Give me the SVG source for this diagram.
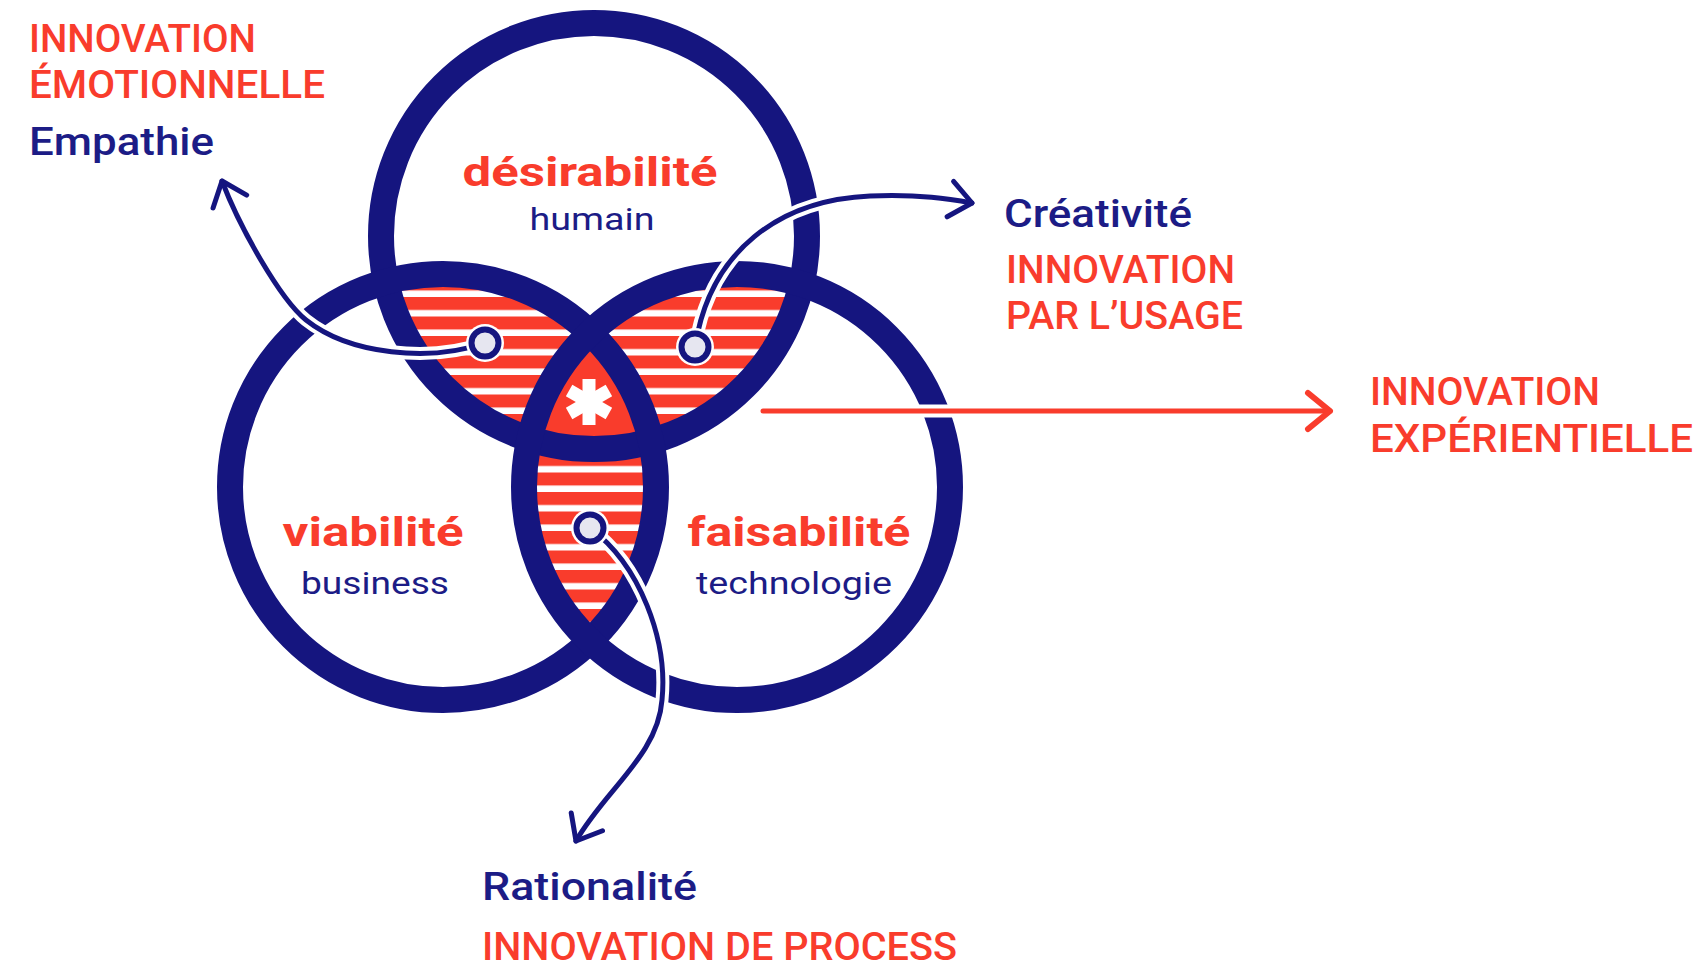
<svg xmlns="http://www.w3.org/2000/svg" width="1705" height="969" viewBox="0 0 1705 969">
<style>
.ring{fill:none;stroke:#15157f;stroke-width:26}
.red{fill:#f93c2c}
.navy{fill:#1c1c86}
.lbl{font-family:Roboto,"Liberation Sans",sans-serif;font-weight:500;font-size:38px}
.big{font-family:Roboto,"Liberation Sans",sans-serif;font-weight:700;font-size:41px}
.sub{font-family:Roboto,"Liberation Sans",sans-serif;font-weight:400;font-size:31px}
.halo{fill:none;stroke:#ffffff;stroke-width:13;stroke-linecap:butt}
.conN{fill:none;stroke:#15157f;stroke-width:5;stroke-linecap:round}
.conR{fill:none;stroke:#f93c2c;stroke-width:5;stroke-linecap:round}
.dot{fill:#e6e6f0;stroke:#15157f;stroke-width:6}
</style>
<defs>
<clipPath id="cT"><circle cx="594" cy="236" r="213"/></clipPath>
<clipPath id="cL"><circle cx="443" cy="487" r="213"/></clipPath>
<clipPath id="cR"><circle cx="737" cy="487" r="213"/></clipPath>
<pattern id="stripes" patternUnits="userSpaceOnUse" x="0" y="297" width="40" height="19.5">
<rect x="0" y="0" width="40" height="19.5" fill="#ffffff"/>
<rect x="0" y="0" width="40" height="13" fill="#f93c2c"/>
</pattern>
<marker id="arrN" markerUnits="userSpaceOnUse" orient="auto" viewBox="-30 -25 36 50" markerWidth="36" markerHeight="50" refX="0" refY="0">
<path d="M-22,-18 L0,0 L-22,18" fill="none" stroke="#15157f" stroke-width="5" stroke-linecap="round" stroke-linejoin="round"/>
</marker>
<marker id="arrR" markerUnits="userSpaceOnUse" orient="auto" viewBox="-30 -25 36 50" markerWidth="36" markerHeight="50" refX="0" refY="0">
<path d="M-22,-18 L0,0 L-22,18" fill="none" stroke="#f93c2c" stroke-width="6" stroke-linecap="round" stroke-linejoin="round"/>
</marker>
</defs>
<rect x="0" y="0" width="1705" height="969" fill="#ffffff"/>

<g id="overlaps">
<g clip-path="url(#cT)"><circle cx="443" cy="487" r="213" fill="url(#stripes)"/></g>
<g clip-path="url(#cT)"><circle cx="737" cy="487" r="213" fill="url(#stripes)"/></g>
<g clip-path="url(#cL)"><circle cx="737" cy="487" r="213" fill="url(#stripes)"/></g>
<g clip-path="url(#cT)"><g clip-path="url(#cL)"><circle cx="737" cy="487" r="213" fill="#f93c2c"/></g></g>
</g>

<g id="center-asterisk" stroke="#ffffff" stroke-width="13">
<line x1="589" y1="379" x2="589" y2="425"/>
<line x1="569.1" y1="390.5" x2="608.9" y2="413.5"/>
<line x1="569.1" y1="413.5" x2="608.9" y2="390.5"/>
</g>

<g id="desirabilite">
<circle class="ring" cx="594" cy="236" r="213"/>
<text class="big red" x="590" y="186" text-anchor="middle" textLength="255" lengthAdjust="spacingAndGlyphs">désirabilité</text>
<text class="sub navy" x="592" y="230" text-anchor="middle" textLength="125" lengthAdjust="spacingAndGlyphs">humain</text>
</g>
<g id="viabilite">
<circle class="ring" cx="443" cy="487" r="213"/>
<text class="big red" x="373" y="546" text-anchor="middle" textLength="181" lengthAdjust="spacingAndGlyphs">viabilité</text>
<text class="sub navy" x="375" y="594" text-anchor="middle" textLength="148" lengthAdjust="spacingAndGlyphs">business</text>
</g>
<g id="faisabilite">
<circle class="ring" cx="737" cy="487" r="213"/>
<text class="big red" x="799" y="546" text-anchor="middle" textLength="223" lengthAdjust="spacingAndGlyphs">faisabilité</text>
<text class="sub navy" x="794" y="594" text-anchor="middle" textLength="196" lengthAdjust="spacingAndGlyphs">technologie</text>
</g>

<g id="connectors">
<path class="halo" d="M485,343 C430,362 350,355 306,320 C280,299 240,228 222,181"/>
<path class="conN" d="M485,343 C430,362 350,355 306,320 C280,299 240,228 222,181" marker-end="url(#arrN)"/>
<path class="halo" d="M695,347 C710,250 780,200 870,196 C920,194 950,199 972,203"/>
<path class="conN" d="M695,347 C710,250 780,200 870,196 C920,194 950,199 972,203" marker-end="url(#arrN)"/>
<path class="halo" d="M590,528 C640,565 668,640 662,700 C658,755 605,790 576,841"/>
<path class="conN" d="M590,528 C640,565 668,640 662,700 C658,755 605,790 576,841" marker-end="url(#arrN)"/>
<line class="halo" x1="763" y1="411" x2="1000" y2="411"/>
<line class="conR" x1="763" y1="411" x2="1330" y2="411" marker-end="url(#arrR)"/>
</g>

<g id="dots">
<circle cx="485" cy="343" r="19" fill="#ffffff"/>
<circle class="dot" cx="485" cy="343" r="13.5"/>
<circle cx="695" cy="347" r="19" fill="#ffffff"/>
<circle class="dot" cx="695" cy="347" r="13.5"/>
<circle cx="590" cy="528" r="19" fill="#ffffff"/>
<circle class="dot" cx="590" cy="528" r="13.5"/>
</g>

<g id="label-emotionnelle">
<text class="lbl red" x="29" y="52" textLength="227" lengthAdjust="spacingAndGlyphs">INNOVATION</text>
<text class="lbl red" x="29" y="98" textLength="296" lengthAdjust="spacingAndGlyphs">ÉMOTIONNELLE</text>
<text class="lbl navy" x="29" y="155" textLength="185" lengthAdjust="spacingAndGlyphs">Empathie</text>
</g>
<g id="label-usage">
<text class="lbl navy" x="1004" y="227" textLength="188" lengthAdjust="spacingAndGlyphs">Créativité</text>
<text class="lbl red" x="1006" y="283" textLength="229" lengthAdjust="spacingAndGlyphs">INNOVATION</text>
<text class="lbl red" x="1006" y="329" textLength="237" lengthAdjust="spacingAndGlyphs">PAR L’USAGE</text>
</g>
<g id="label-experientielle">
<text class="lbl red" x="1370" y="405" textLength="230" lengthAdjust="spacingAndGlyphs">INNOVATION</text>
<text class="lbl red" x="1370" y="452" textLength="323" lengthAdjust="spacingAndGlyphs">EXPÉRIENTIELLE</text>
</g>
<g id="label-process">
<text class="lbl navy" x="482" y="900" textLength="215" lengthAdjust="spacingAndGlyphs">Rationalité</text>
<text class="lbl red" x="482" y="960" textLength="475" lengthAdjust="spacingAndGlyphs">INNOVATION DE PROCESS</text>
</g>
</svg>
